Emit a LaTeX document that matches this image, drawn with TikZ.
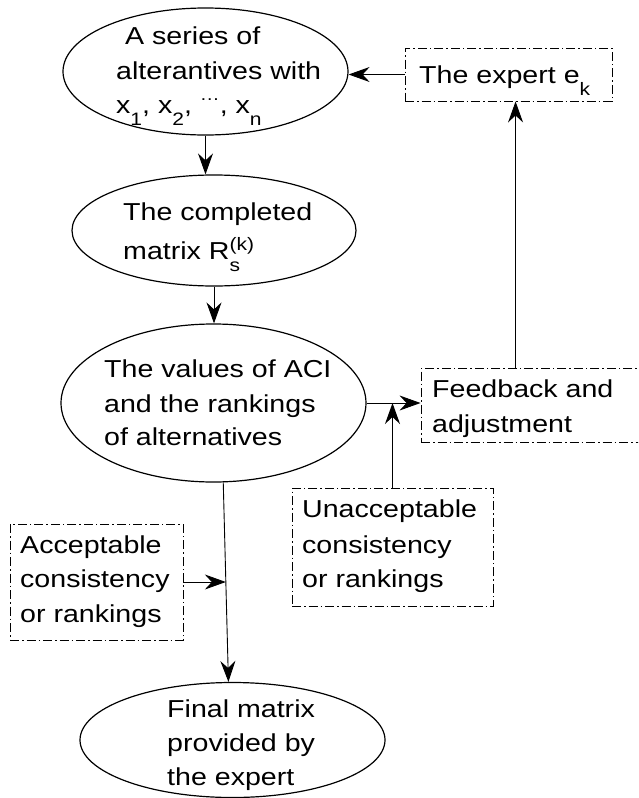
\documentclass[tikz,border=0pt]{standalone}
\usepackage{fontspec}
\setmainfont{Liberation Sans}[FakeStretch=1.167]
\usetikzlibrary{shapes.geometric,arrows.meta,calc}
\newcommand\lowsub[1]{\raisebox{-12pt}{\fontsize{18}{18}\selectfont #1}}
\newcommand\highsup[1]{\raisebox{9pt}{\fontsize{18}{18}\selectfont #1}}
\begin{document}
\begin{tikzpicture}[x=1pt,y=-1pt,
  ell/.style={draw,ellipse,line width=1.2pt,inner sep=0pt},
  dbox/.style={draw,rectangle,line width=0.9pt,inner sep=0pt,dash pattern=on 9pt off 3pt on 1.5pt off 3pt},
  txt/.style={anchor=base west,inner sep=0pt,font=\fontsize{24.5}{30}\selectfont},
  arr/.style={-{Stealth[length=21pt,width=15pt,inset=7pt]},line width=0.9pt}]
\useasboundingbox (0,0) rectangle (638,798);
\clip (0,0) rectangle (638,798);
% ellipses
\node[ell,minimum width=285pt,minimum height=127pt] (e1) at (205.5,71.5) {};
\node[ell,minimum width=284pt,minimum height=111pt] (e2) at (214,230.5) {};
\node[ell,minimum width=305pt,minimum height=158pt] (e3) at (213.5,403) {};
\node[ell,minimum width=305pt,minimum height=115pt] (fin) at (232.5,740) {};
% boxes
\node[dbox,minimum width=207pt,minimum height=53pt] (ex) at (508.5,74.5) {};
\node[dbox,minimum width=250pt,minimum height=74pt] (fb) at (546,405) {};
\node[dbox,minimum width=201pt,minimum height=118pt] (un) at (392.5,547) {};
\node[dbox,minimum width=173pt,minimum height=116pt] (acc) at (96.5,582) {};
% texts
\node[txt] (t1a) at (125,44) {A series of};
\node[txt] (t1b) at (116,79) {alterantives with};
\node[txt] (t1c) at (116,113) {x\lowsub{1}, x\lowsub{2}, \smash{\raisebox{13pt}{\fontsize{17}{17}\selectfont …}}, x\lowsub{n}};
\node[txt] (t2a) at (123,220) {The completed};
\node[txt] (t2b) at (123,259) {matrix R\rlap{\lowsub{s}}\highsup{(k)}};
\node[txt] (t3a) at (104,377) {The values of ACI};
\node[txt] (t3b) at (104,412) {and the rankings};
\node[txt] (t3c) at (104,445) {of alternatives};
\node[txt] (t4a) at (167,717) {Final matrix};
\node[txt] (t4b) at (167,751) {provided by};
\node[txt] (t4c) at (167,785) {the expert};
\node[txt] (tex) at (419,83) {The expert e\lowsub{k}};
\node[txt] (tfa) at (432,397) {Feedback and};
\node[txt] (tfb) at (432,432) {adjustment};
\node[txt] (tua) at (302,517) {Unacceptable};
\node[txt] (tub) at (302,553) {consistency};
\node[txt] (tuc) at (302,587) {or rankings};
\node[txt] (taa) at (20,553) {Acceptable};
\node[txt] (tab) at (20,587) {consistency};
\node[txt] (tac) at (20,622) {or rankings};
% connectors
\draw[arr] (ex.west) -- (ex.west -| e1.east);
\draw[arr] (e1.south) -- (e1.south |- e2.north);
\draw[arr] (e2.south) -- (e2.south |- e3.north);
\draw[arr] (e3.-83) -- (fin.94.5);
\path (e3.-83) -- (fin.94.5) coordinate[pos=0.5] (mid);
\draw[arr] (acc.east) -- (acc.east -| mid);
\draw[arr] (e3.east) -- (e3.east -| fb.west);
\draw[arr,line width=1.3pt] (un.north) -- (un.north |- e3.east);
\coordinate (fbt) at ([xshift=95pt]fb.north west);
\draw[arr] (fbt) -- (fbt |- ex.south);
\end{tikzpicture}
\end{document}
